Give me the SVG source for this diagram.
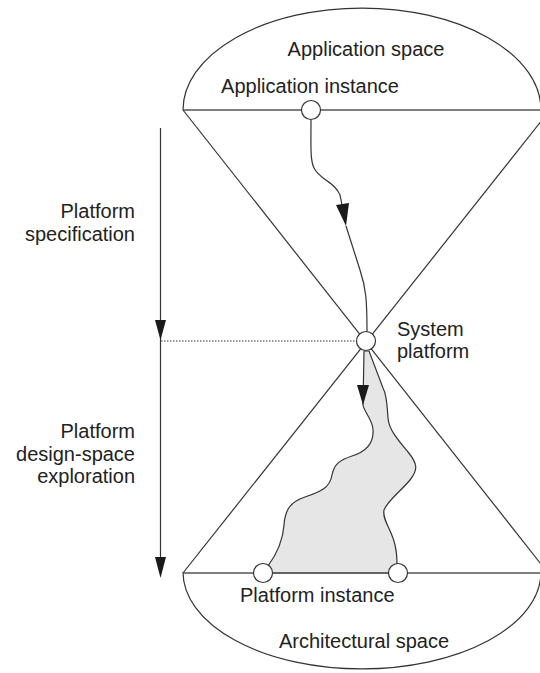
<svg xmlns="http://www.w3.org/2000/svg" width="540" height="673" viewBox="0 0 540 673">
<style>
.ln{fill:none;stroke:#333;stroke-width:1.2}
.hz{fill:none;stroke:#555;stroke-width:1.3}
.nd{fill:#fff;stroke:#333;stroke-width:1.2}
.ah{fill:#1a1a1a;stroke:none}
text{font-family:"Liberation Sans",Arial,sans-serif;font-size:20px;fill:#222}
.r{text-anchor:end}
.m{text-anchor:middle}
</style>
<rect width="540" height="673" fill="#fff"/>
<g id="application-space">
<path class="ln" d="M183,110 A179,102 0 0 1 541,110"/>
<line class="hz" x1="183" y1="110" x2="540" y2="110"/>
<text class="m" x="366" y="56">Application space</text>
</g>
<g id="architectural-space">
<path class="ln" d="M183,572 A179,97 0 0 0 541,572"/>
<text x="279" y="648">Architectural space</text>
</g>
<g id="cone">
<line class="ln" x1="183" y1="110" x2="548" y2="573"/>
<line class="ln" x1="550" y1="110" x2="183" y2="573"/>
</g>
<g id="design-space-region">
<path fill="#e6e6e6" stroke="#333" stroke-width="1.2" d="M364,351 L363,405 C364,412 373,420 373,430 C374,445 365,452 352,456 C340,460 334,464 332,475 C330,488 320,492 305,497 C290,502 285,510 284,525 C283,540 276,555 268,566 L263,573 L398,573 L397,565 C397,555 397,553 395,545 C392,530 382,520 384,510 C388,500 400,492 410,480 C418,470 418,464 408,452 C398,440 389,430 388,418 C387,405 387,395 383,388 L369,351 Z"/>
</g>
<line class="hz" x1="183" y1="573" x2="540" y2="573"/>
<g id="connectors">
<path class="ln" d="M311,120 C311,145 310,160 314,168 C320,180 335,182 340,195 L342,205"/>
<polygon class="ah" points="336,205 349,203 346,226"/>
<path class="ln" d="M346,226 L360,270 C366,288 367,300 367,332"/>
<polygon class="ah" points="357,385 369,385 363,405"/>
<line class="ln" x1="160.5" y1="128" x2="160.5" y2="560"/>
<polygon class="ah" points="155,320 166,320 160.5,340"/>
<polygon class="ah" points="155,557 166,557 160.5,578"/>
<line x1="161" y1="341" x2="356" y2="341" stroke="#333" stroke-width="1" stroke-dasharray="1.5,1.5"/>
</g>
<g id="application-instance">
<circle class="nd" cx="311" cy="110" r="9.5"/>
<text class="m" x="310" y="93">Application instance</text>
</g>
<g id="system-platform">
<circle class="nd" cx="366" cy="341" r="9.5"/>
<text x="397" y="336">System</text>
<text x="397" y="358">platform</text>
</g>
<g id="platform-instance">
<circle class="nd" cx="263" cy="573" r="9.5"/>
<circle class="nd" cx="398" cy="573" r="9.5"/>
<text x="240" y="602">Platform instance</text>
</g>
<g id="labels">
<text class="r" x="135" y="218">Platform</text>
<text class="r" x="135" y="241">specification</text>
<text class="r" x="135" y="438">Platform</text>
<text class="r" x="135" y="461">design-space</text>
<text class="r" x="135" y="483">exploration</text>
</g>
</svg>
